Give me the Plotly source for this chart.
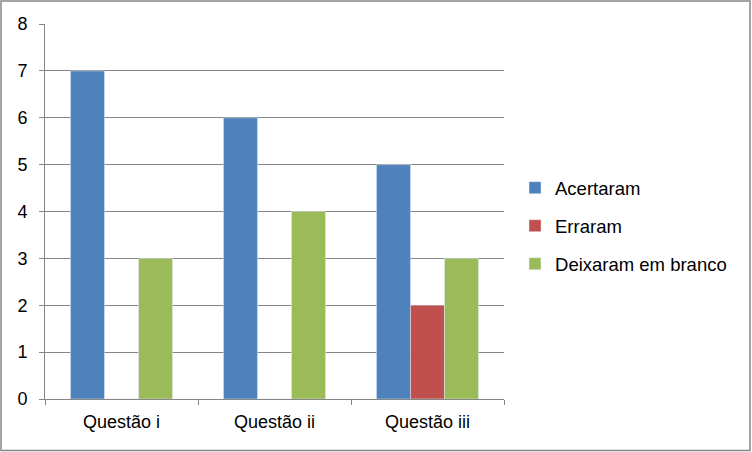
import plotly.graph_objects as go

# dados do gráfico
questoes = ["Questão i", "Questão ii", "Questão iii"]
acertaram = [7, 6, 5]
erraram = [0, 0, 2]
em_branco = [3, 4, 3]

cinza = "#868686"
fonte = dict(family="Liberation Sans, Arial, sans-serif", size=18, color="#000000")

fig = go.Figure()
fig.add_trace(go.Bar(x=questoes, y=acertaram, name="Acertaram", marker_color="#4F81BD", legendgroup="a"))
fig.add_trace(go.Bar(x=questoes, y=erraram, name="Erraram", marker_color="#C0504D", legendgroup="b"))
fig.add_trace(go.Bar(x=questoes, y=em_branco, name="Deixaram em branco", marker_color="#9BBB59", legendgroup="c"))

# area do grafico: 459 x 375
fig.update_layout(
    width=752, height=452, autosize=False,
    margin=dict(l=45, r=248, t=24, b=53),
    paper_bgcolor="white", plot_bgcolor="white",
    font=fonte,
    barmode="group", bargap=0.333, bargroupgap=0,
    legend=dict(x=1.024, y=0.461, xanchor="left", yanchor="middle",
                traceorder="grouped", tracegroupgap=11,
                font=dict(family=fonte["family"], size=18.5, color="#000000")),
    shapes=[dict(type="rect", xref="paper", yref="paper",
                 x0=-44/459, x1=705/459, y0=-51.5/375, y1=1 + 23/375,
                 line=dict(color=cinza, width=1.5), layer="below")],
)
fig.update_yaxes(range=[0, 8], dtick=1, showgrid=True, gridcolor=cinza, gridwidth=1,
                 showline=True, linecolor=cinza, linewidth=1, ticks="outside",
                 ticklen=5, tickcolor=cinza, ticklabelstandoff=8, zeroline=False)
fig.update_xaxes(showline=True, linecolor=cinza, linewidth=1, ticks="outside",
                 tickson="boundaries", ticklen=5, tickcolor=cinza, ticklabelstandoff=6)

# tira a margem padrão do body e a barra de rolagem
fig.write_html("out.html",
               config=dict(displayModeBar=False, responsive=False),
               post_script="document.body.style.margin='0';document.body.style.overflow='hidden';")
